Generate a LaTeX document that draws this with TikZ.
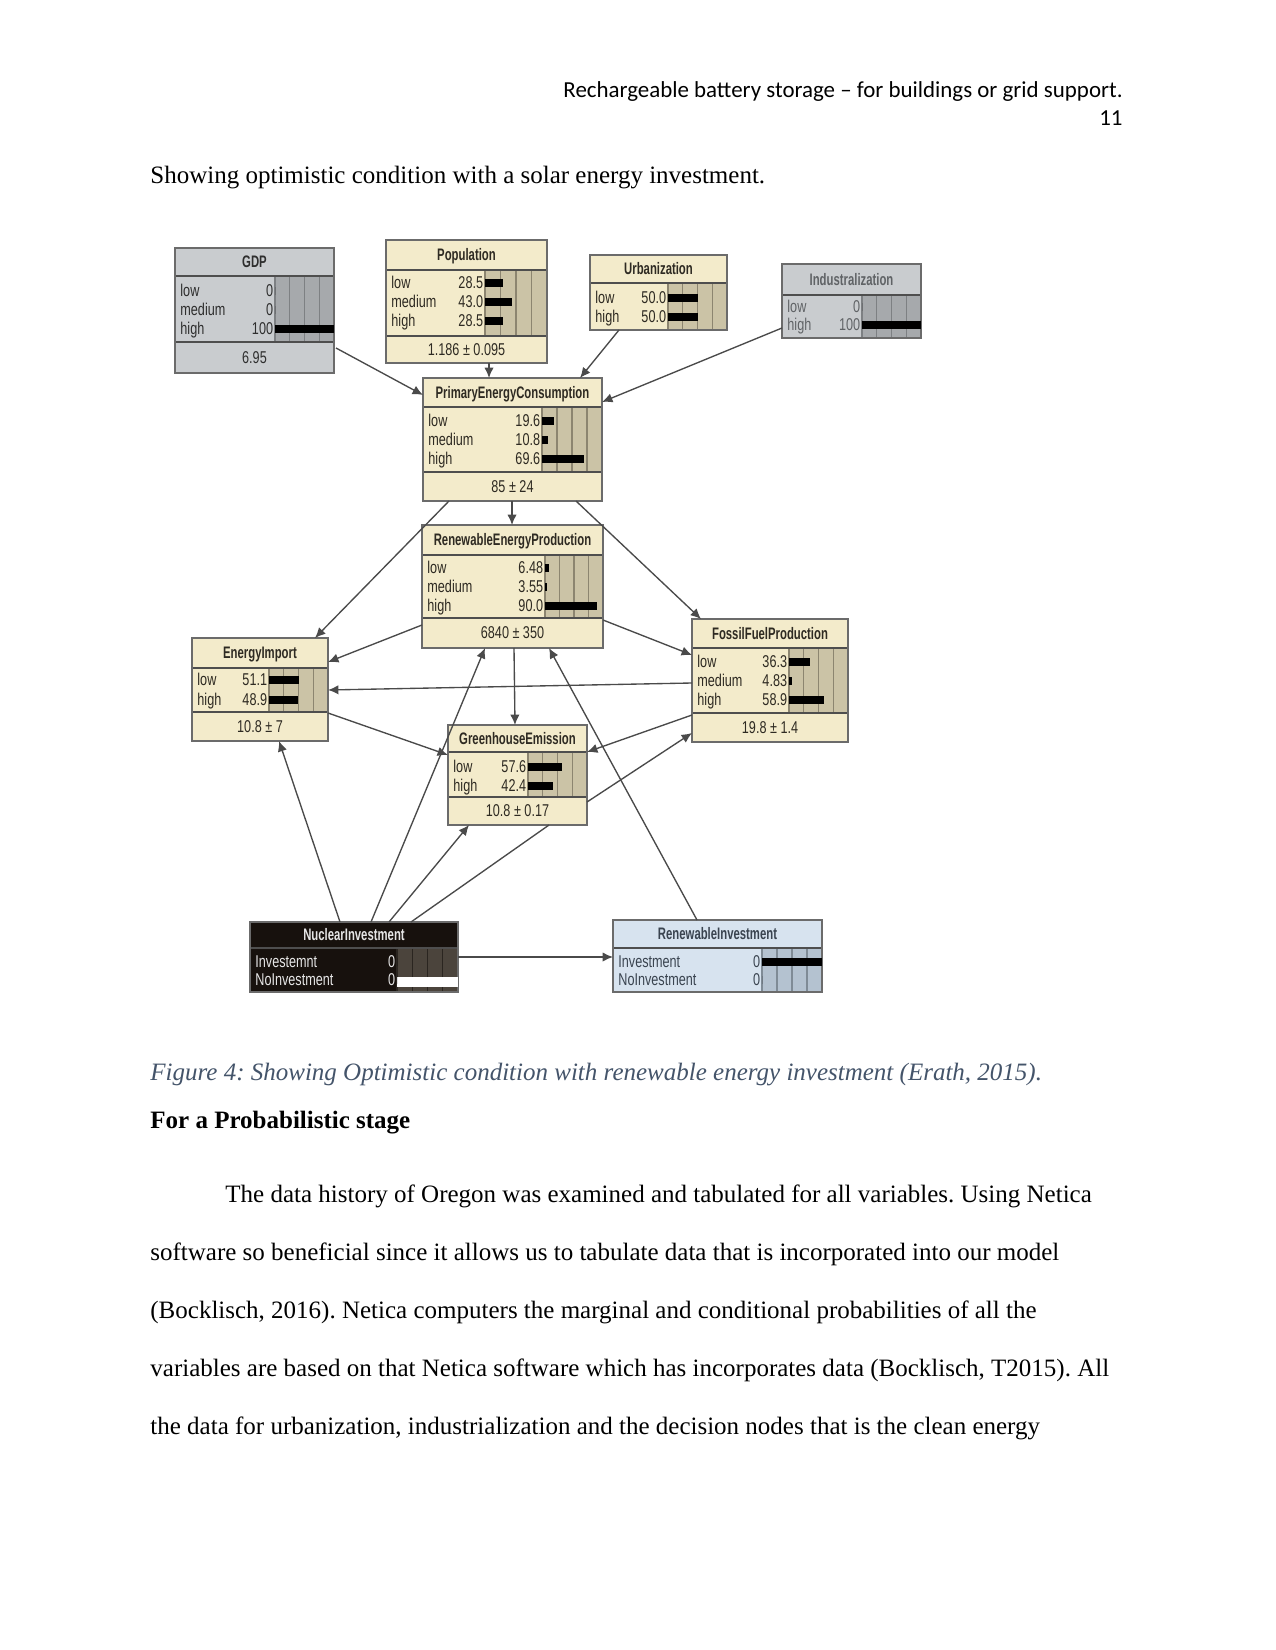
\documentclass[tikz,border=0pt]{standalone}
\usepackage{fontspec}
\setmainfont{Liberation Serif}
\newfontfamily\calibri{Carlito}
\newfontfamily\netfont[FakeStretch=0.74]{Liberation Sans}
\newfontfamily\nettfont[FakeStretch=0.68]{Liberation Sans}
\usetikzlibrary{fit,calc,arrows.meta}
\definecolor{beigebg}{HTML}{F3EBCB}
\definecolor{beigebar}{HTML}{CBC3A6}
\definecolor{beigegrid}{HTML}{8C8570}
\definecolor{beigetxt}{HTML}{2E2A22}
\definecolor{greybg}{HTML}{C9CCCF}
\definecolor{greybar}{HTML}{A6A9AC}
\definecolor{greygrid}{HTML}{7D8083}
\definecolor{greytxt}{HTML}{2E2E2E}
\definecolor{indbg}{HTML}{C9CCCF}
\definecolor{indbar}{HTML}{A6A9AC}
\definecolor{indgrid}{HTML}{7D8083}
\definecolor{indtxt}{HTML}{606366}
\definecolor{nucbg}{HTML}{17110D}
\definecolor{nucbar}{HTML}{4B443C}
\definecolor{nucgrid}{HTML}{2A2520}
\definecolor{nuctxt}{HTML}{E6E6E6}
\definecolor{ribg}{HTML}{D7E3EF}
\definecolor{ribar}{HTML}{B4C2D0}
\definecolor{rigrid}{HTML}{7F8B96}
\definecolor{ritxt}{HTML}{3A4450}
\definecolor{nborderc}{HTML}{6B6B6B}
\definecolor{nsepc}{HTML}{4E4E4E}
\definecolor{linec}{HTML}{4A4A4A}
\definecolor{captc}{HTML}{44546A}
\newcount\nrc
\tikzset{
  nborder/.style={draw=nborderc, line width=0.75pt},
  nsep/.style={draw=nsepc, line width=0.9pt},
  ntitle/.style={inner sep=0pt, font=\nettfont\bfseries\fontsize{8}{9}\selectfont, text height=1.5ex, text depth=0.3ex},
  nrow/.style={inner sep=0pt, font=\netfont\fontsize{8.2}{9}\selectfont, text height=1.5ex, text depth=0.3ex},
  conn/.style={draw=linec, line width=0.65pt, -{Latex[length=5pt,width=4.5pt]}},
  plainconn/.style={draw=linec, line width=0.65pt},
  body/.style={inner sep=0pt, anchor=base west, font=\fontsize{12}{14}\selectfont}
}
% name, x1, y1, x2, y2, title bottom, table bottom, bar left, scheme
\newcommand\NN[9]{%
  \def\Nx{#2}\def\Ny{#3}\def\NX{#4}\def\NY{#5}\def\Nt{#6}\def\Nb{#7}\def\Nbar{#8}\def\Nstxt{#9txt}%
  \node[fit={(#2,#3) (#4,#5)}, inner sep=0pt, outer sep=0pt, fill=#9bg] (#1) {};
  \fill[#9bar] (#8,#6) rectangle (#4,#7);
  \foreach \k in {1,2,3}{\draw[draw=#9grid, line width=0.5pt] ({#8+\k*(#4-#8)/4},#6) -- ({#8+\k*(#4-#8)/4},#7);}
  \draw[draw=#9grid, line width=0.5pt] (#8,#6) -- (#8,#7);
  \draw[nsep] (#2,#6) -- (#4,#6);
  \draw[nsep] (#2,#7) -- (#4,#7);
  \draw[nborder] (#1.north west) rectangle (#1.south east);
}
\newcommand\NT[1]{\global\advance\nrc by 1
  \node[ntitle, text=\Nstxt] (t\the\nrc) at ({(\Nx+\NX)/2},{(\Ny+\Nt)/2}) {#1};}
\newcommand\NM[1]{\global\advance\nrc by 1
  \node[nrow, text=\Nstxt] (m\the\nrc) at ({(\Nx+\NX)/2},{(\Nb+\NY)/2}) {#1};}
% y, label, value, fraction
\newcommand\NR[4]{\global\advance\nrc by 1
  \node[nrow, anchor=west, text=\Nstxt] (l\the\nrc) at ({\Nx+5},#1) {#2};
  \node[nrow, anchor=east, text=\Nstxt] (v\the\nrc) at ({\Nbar-1.5},#1) {#3};
  \fill[black] (\Nbar,{#1-3.8}) rectangle ({\Nbar+#4*(\NX-\Nbar)},{#1+3.8});}
\begin{document}
\frenchspacing
\begin{tikzpicture}[x=0.48pt, y=-0.48pt]
\fill[white] (0,0) rectangle (1275,1650);
\useasboundingbox (0,0) rectangle (1275,1650);

% page text
\node[inner sep=0pt, anchor=base east, font=\calibri\fontsize{11}{13}\selectfont] (hdr) at (1123,98) {Rechargeable battery storage – for buildings or grid support.};
\node[inner sep=0pt, anchor=base east, font=\calibri\fontsize{11}{13}\selectfont] (pgno) at (1123,126) {11};
\node[body] (intro) at (150,184) {Showing optimistic condition with a solar energy investment.};

% GDP
\NN{gdp}{175}{248}{334}{373}{276}{342}{275}{grey}
\NT{GDP}
\NR{291}{low}{0}{0}
\NR{310}{medium}{0}{0}
\NR{329}{high}{100}{1}
\NM{6.95}

% Population
\NN{pop}{386}{240}{547}{363}{270}{336}{485}{beige}
\NT{Population}
\NR{283}{low}{28.5}{0.285}
\NR{302}{medium}{43.0}{0.43}
\NR{321}{high}{28.5}{0.285}
\NM{1.186 ± 0.095}

% Urbanization
\NN{urb}{590}{255}{727}{330}{283}{330}{668}{beige}
\NT{Urbanization}
\NR{298}{low}{50.0}{0.5}
\NR{317}{high}{50.0}{0.5}

% Industralization
\NN{ind}{782}{264}{921}{338}{295}{338}{862}{ind}
\NT{Industralization}
\NR{307}{low}{0}{0}
\NR{325}{high}{100}{1}

% PrimaryEnergyConsumption
\NN{pec}{423}{378}{602}{501}{407}{472}{542}{beige}
\NT{PrimaryEnergyConsumption}
\NR{421}{low}{19.6}{0.196}
\NR{440}{medium}{10.8}{0.108}
\NR{459}{high}{69.6}{0.696}
\NM{85 ± 24}

% RenewableEnergyProduction
\NN{rep}{422}{525}{603}{648}{555}{618}{545}{beige}
\NT{RenewableEnergyProduction}
\NR{568}{low}{6.48}{0.0648}
\NR{587}{medium}{3.55}{0.0355}
\NR{606}{high}{90.0}{0.9}
\NM{6840 ± 350}

% EnergyImport
\NN{ei}{192}{638}{328}{741}{668}{712}{269}{beige}
\NT{EnergyImport}
\NR{680}{low}{51.1}{0.511}
\NR{700}{high}{48.9}{0.489}
\NM{10.8 ± 7}

% FossilFuelProduction
\NN{ff}{692}{619}{848}{742}{648}{713}{789}{beige}
\NT{FossilFuelProduction}
\NR{662}{low}{36.3}{0.363}
\NR{681}{medium}{4.83}{0.0483}
\NR{700}{high}{58.9}{0.589}
\NM{19.8 ± 1.4}

% GreenhouseEmission
\NN{ge}{448}{725}{587}{825}{752}{797}{528}{beige}
\NT{GreenhouseEmission}
\NR{767}{low}{57.6}{0.576}
\NR{786}{high}{42.4}{0.424}
\NM{10.8 ± 0.17}

% NuclearInvestment
\NN{nuc}{250}{922}{458}{992}{948}{992}{397}{nuc}
\fill[white] (397,977) rectangle (458,987);
\NT{NuclearInvestment}
\NR{962}{Investemnt}{0}{0}
\NR{980}{NoInvestment}{0}{0}

% RenewableInvestment
\NN{ri}{613}{920}{822}{992}{948}{992}{762}{ri}
\NT{RenewableInvestment}
\NR{962}{Investment}{0}{1}
\NR{980}{NoInvestment}{0}{0}

% connectors
\draw[conn] ($(gdp.north east)+(2,100)$) -- ($(pec.north west)+(0,17)$);
\draw[conn] ($(pop.south west)+(103,0)$) -- ($(pec.north west)+(66,0)$);
\draw[conn] ($(urb.south west)+(29,0)$) -- ($(pec.north east)+(-22,0)$);
\draw[conn] ($(ind.north west)+(0,64)$) -- ($(pec.north east)+(0,24)$);
\draw[conn] ($(pec.south west)+(89,0)$) -- ($(rep.north west)+(90,0)$);
\draw[conn] ($(pec.south west)+(26,0)$) -- ($(ei.north west)+(123,0)$);
\draw[conn] ($(pec.south east)+(-26,0)$) -- ($(ff.north west)+(9,0)$);
\draw[conn] ($(rep.north west)+(0,100)$) -- ($(ei.north east)+(0,24)$);
\draw[conn] ($(rep.north east)+(0,95)$) -- ($(ff.north west)+(0,36)$);
\draw[conn] ($(ff.north west)+(0,64)$) -- ($(ei.north east)+(0,52)$);
\draw[conn] ($(ei.north east)+(0,75)$) -- ($(ge.north west)+(0,30)$);
\draw[conn] ($(ff.north west)+(0,96)$) -- ($(ge.north east)+(0,27)$);
\draw[conn] ($(ge.north east)+(0,77)$) -- ($(ff.north west)+(0,114)$);
\draw[conn] ($(rep.south west)+(92,0)$) -- ($(ge.north west)+(67,0)$);
\draw[conn] ($(nuc.north west)+(90,0)$) -- ($(ei.south west)+(87,0)$);
\draw[conn] ($(nuc.north west)+(121,0)$) -- ($(rep.south west)+(63,0)$);
\draw[conn] ($(nuc.north west)+(139,0)$) -- ($(ge.south west)+(21,0)$);
\draw[plainconn] ($(nuc.north west)+(161,0)$) -- ($(ge.south west)+(101,0)$);
\draw[conn] ($(ri.north west)+(84,0)$) -- ($(rep.south west)+(127,0)$);
\draw[conn] ($(nuc.north east)+(0,35)$) -- ($(ri.north west)+(0,37)$);

% caption and body text
\node[body, font=\itshape\fontsize{12}{14}\selectfont, text=captc] (cap) at (150,1080) {Figure 4: Showing Optimistic condition with renewable energy investment (Erath, 2015).};
\node[body, font=\bfseries\fontsize{12}{14}\selectfont] (head) at (150,1128) {For a Probabilistic stage};
\node[body] (p1) at (225,1202) {The data history of Oregon was examined and tabulated for all variables. Using Netica};
\node[body] (p2) at (150,1260) {software so beneficial since it allows us to tabulate data that is incorporated into our model};
\node[body] (p3) at (150,1318) {(Bocklisch, 2016). Netica computers the marginal and conditional probabilities of all the};
\node[body] (p4) at (150,1376) {variables are based on that Netica software which has incorporates data (Bocklisch, T2015). All};
\node[body] (p5) at (150,1434) {the data for urbanization, industrialization and the decision nodes that is the clean energy};
\end{tikzpicture}
\end{document}
